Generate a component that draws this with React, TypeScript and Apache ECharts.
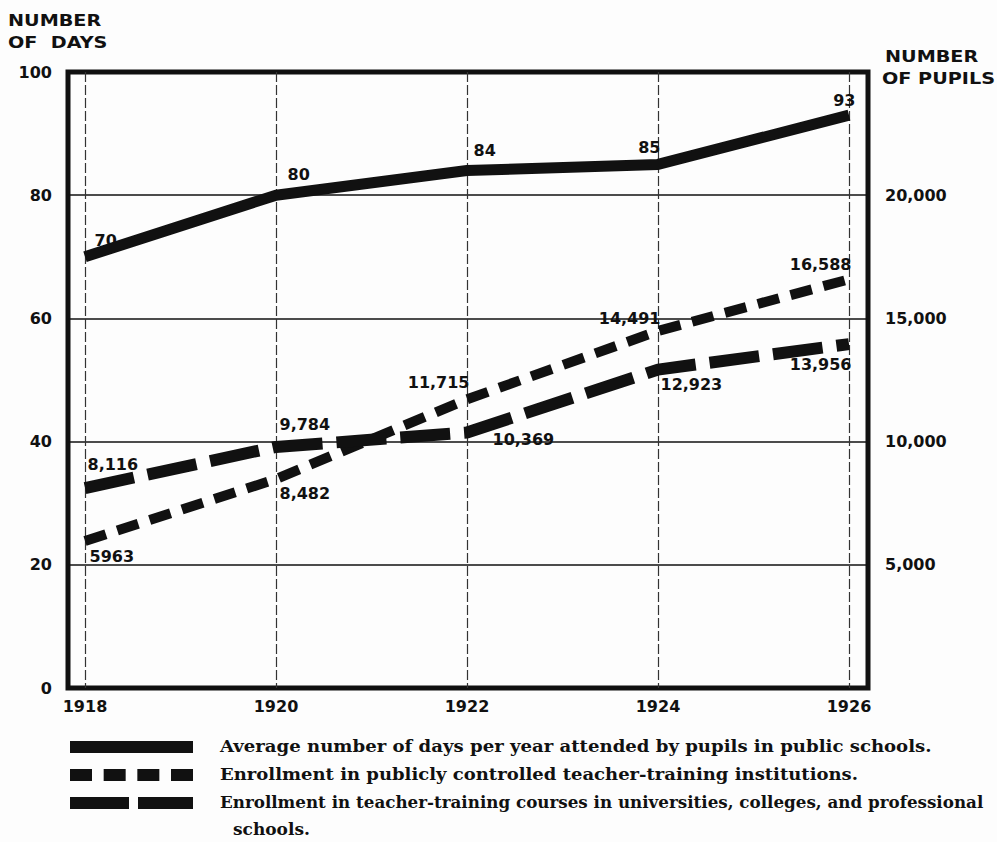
import React, { useEffect, useRef } from "react";
import * as echarts from "echarts";

// ---- data ----
const YEARS = [1918, 1920, 1922, 1924, 1926];
const AVG_DAYS = [70, 80, 84, 85, 93];
const ENROLL_PUBLIC = [5963, 8482, 11715, 14491, 16588];
const ENROLL_UNIV = [8116, 9784, 10369, 12923, 13956];
const DAYS_AXIS = { min: 0, max: 100, interval: 20 };
const PUPILS_AXIS = { min: 0, max: 25000, interval: 5000 };
const LEFT_TITLE = ["NUMBER", "OF  DAYS"];
const RIGHT_TITLE = ["NUMBER", "OF PUPILS"];
const LEGEND_TEXTS = [
  "Average number of days per year attended by pupils in public schools.",
  "Enrollment in publicly controlled teacher-training institutions.",
  "Enrollment in teacher-training courses in universities, colleges, and professional",
  "schools.",
];
// the source prints the first public-institution value without a thousands separator
const PLAIN_PUBLIC_INDEX = 0;

// ---- label placement (style, not data): [dx, dy, align] ----
const DAYS_LABEL_POS: [number, number, string][] = [
  [10, -16, "left"], [12, -20, "left"], [7, -20, "left"], [3, -16, "right"], [7, -14, "right"],
];
const PUBLIC_LABEL_POS: [number, number, string][] = [
  [5, 16, "left"], [4, 15, "left"], [3, -16, "right"], [3, -12, "right"], [3, -14, "right"],
];
const UNIV_LABEL_POS: [number, number, string][] = [
  [3, -23, "left"], [4, -22, "left"], [26, 7, "left"], [3, 15, "left"], [3, 21, "right"],
];
const LEGEND_SCALE = [1.065, 1.06, 0.985, 1.0];

const INK = "#111";
const SANS = '"DejaVu Sans", sans-serif';
const SERIF = '"DejaVu Serif", serif';

const fmt = (v: number) => v.toLocaleString("en-US");

function buildData(values: number[], pos: [number, number, string][], text: (v: number, i: number) => string) {
  return YEARS.map((y, i) => ({
    value: [y, values[i]],
    label: {
      show: true,
      position: [pos[i][0], pos[i][1]],
      align: pos[i][2],
      verticalAlign: "middle",
      formatter: () => text(values[i], i),
    },
  }));
}

export default function App() {
  const ref = useRef<HTMLDivElement>(null);
  useEffect(() => {
    if (!ref.current) return;
    const chart = echarts.init(ref.current, undefined, { renderer: "svg" });
    const labelStyle = {
      color: INK,
      fontFamily: SANS,
      fontWeight: "bold" as const,
      fontSize: 16,
    };
    const commonSeries = {
      type: "line" as const,
      xAxisIndex: 1,
      symbol: "circle",
      symbolSize: 1,
      itemStyle: { color: "rgba(0,0,0,0)", borderWidth: 0 },
      label: { ...labelStyle },
      emphasis: { disabled: true },
      silent: true,
    };
    const legendY = [747, 775, 803];
    chart.setOption({
      animation: false,
      backgroundColor: "#fdfdfd",
      grid: [
        { left: 68, right: 129, top: 72, bottom: 154, show: true, borderColor: INK, borderWidth: 5, backgroundColor: "transparent" },
        { left: 85, right: 148, top: 72, bottom: 154 },
      ],
      xAxis: [
        { gridIndex: 0, type: "value", min: 0, max: 1, show: false },
        {
          gridIndex: 1,
          type: "value",
          min: YEARS[0],
          max: YEARS[YEARS.length - 1],
          interval: 2,
          axisLine: { show: false },
          axisTick: { show: false },
          axisLabel: { ...labelStyle, margin: 10, formatter: (v: number) => String(v) },
          splitLine: { show: true, lineStyle: { color: "#333", width: 1.2, type: [10, 3] } },
        },
      ],
      yAxis: [
        {
          gridIndex: 0,
          type: "value",
          position: "left",
          ...DAYS_AXIS,
          axisLine: { show: false },
          axisTick: { show: false },
          axisLabel: { ...labelStyle, margin: 16 },
          splitLine: { show: true, lineStyle: { color: INK, width: 1.5 } },
        },
        {
          gridIndex: 0,
          type: "value",
          position: "right",
          ...PUPILS_AXIS,
          axisLine: { show: false },
          axisTick: { show: false },
          axisLabel: {
            ...labelStyle,
            margin: 17,
            formatter: (v: number) => (v === PUPILS_AXIS.min || v === PUPILS_AXIS.max ? "" : fmt(v)),
          },
          splitLine: { show: false },
        },
        { gridIndex: 1, type: "value", ...DAYS_AXIS, show: false },
        { gridIndex: 1, type: "value", ...PUPILS_AXIS, show: false },
      ],
      series: [
        {
          ...commonSeries,
          name: "days",
          yAxisIndex: 2,
          lineStyle: { color: INK, width: 11, join: "round", cap: "butt" },
          data: buildData(AVG_DAYS, DAYS_LABEL_POS, (v) => String(v)),
          z: 4,
        },
        {
          ...commonSeries,
          name: "public",
          yAxisIndex: 3,
          lineStyle: { color: INK, width: 10, type: [22, 12], cap: "butt" },
          data: buildData(ENROLL_PUBLIC, PUBLIC_LABEL_POS, (v, i) => (i === PLAIN_PUBLIC_INDEX ? String(v) : fmt(v))),
          z: 3,
        },
        {
          ...commonSeries,
          name: "univ",
          yAxisIndex: 3,
          lineStyle: { color: INK, width: 12, type: [50, 14], cap: "butt" },
          data: buildData(ENROLL_UNIV, UNIV_LABEL_POS, (v) => fmt(v)),
          z: 3,
        },
      ],
      graphic: [
        // axis titles
        { type: "text", x: 8, y: 13, scaleX: 1.2, style: { text: LEFT_TITLE[0], font: `bold 16px ${SANS}`, fill: INK, verticalAlign: "top" } },
        { type: "text", x: 8, y: 35, scaleX: 1.2, style: { text: LEFT_TITLE[1], font: `bold 16px ${SANS}`, fill: INK, verticalAlign: "top" } },
        { type: "text", x: 885, y: 49, scaleX: 1.2, style: { text: RIGHT_TITLE[0], font: `bold 16px ${SANS}`, fill: INK, verticalAlign: "top" } },
        { type: "text", x: 882, y: 71, scaleX: 1.2, style: { text: RIGHT_TITLE[1], font: `bold 16px ${SANS}`, fill: INK, verticalAlign: "top" } },
        // legend samples
        { type: "line", shape: { x1: 70, y1: legendY[0], x2: 193, y2: legendY[0] }, style: { stroke: INK, lineWidth: 12 } },
        { type: "line", shape: { x1: 70, y1: legendY[1], x2: 193, y2: legendY[1] }, style: { stroke: INK, lineWidth: 12, lineDash: [22, 11.67] } },
        { type: "line", shape: { x1: 70, y1: legendY[2], x2: 193, y2: legendY[2] }, style: { stroke: INK, lineWidth: 12, lineDash: [59, 9] } },
        // legend texts
        ...LEGEND_TEXTS.map((t, i) => ({
          type: "text",
          x: i === 3 ? 233 : 220,
          y: i === 3 ? 829 : legendY[i] - 1,
          scaleX: LEGEND_SCALE[i],
          style: { text: t, font: `bold 17px ${SERIF}`, fill: INK, verticalAlign: "middle" },
        })),
      ],
    });
    return () => chart.dispose();
  }, []);
  return <div ref={ref} style={{ position: "fixed", left: 0, top: 0, width: 997, height: 842 }} />;
}
